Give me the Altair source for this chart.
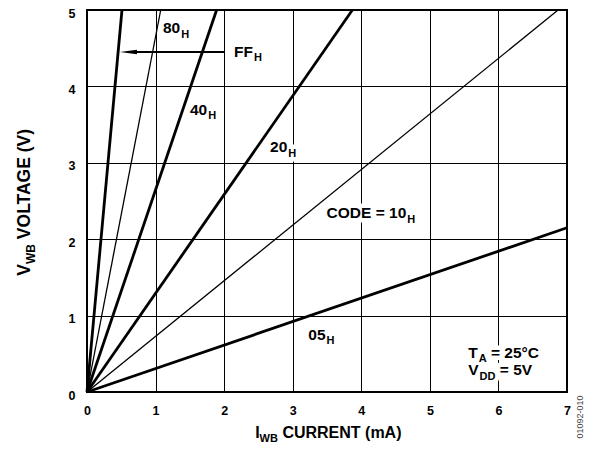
import altair as alt
import pandas as pd

# ---------------- data ----------------
codes = ["05", "10", "20", "40", "80", "FF"]
end_current = [7.0, 6.87, 3.87, 1.89, 1.075, 0.51]   # mA where each line leaves the plot
end_voltage = [2.15, 5.0, 5.0, 5.0, 5.0, 5.0]        # V at that point
heavy_codes = ["05", "20", "40", "FF"]

x_ticks = [0, 1, 2, 3, 4, 5, 6, 7]
y_ticks = [0, 1, 2, 3, 4, 5]

# annotation labels: list of (text, is_subscript) segments
ann_parts = [
    [("80", 0), ("H", 1)],
    [("FF", 0), ("H", 1)],
    [("40", 0), ("H", 1)],
    [("20", 0), ("H", 1)],
    [("CODE = 10", 0), ("H", 1)],
    [("05", 0), ("H", 1)],
    [("T", 0), ("A", 1), (" = 25°C", 0)],
    [("V", 0), ("DD", 1), (" = 5V", 0)],
]
ann_x = [1.108, 2.144, 1.502, 2.669, 3.494, 3.227, 5.56, 5.56]
ann_y = [4.695, 4.389, 3.626, 3.14, 2.274, 0.681, 0.449, 0.2225]

arrow_tail = 2.0
arrow_tip = 0.48
arrow_v = 4.45

x_title = [("I", 0), ("WB", 1), (" CURRENT (mA)", 0)]
y_title = [("V", 0), ("WB", 1), (" VOLTAGE (V)", 0)]
watermark = "01092-010"

# ---------------- layout ----------------
FONT = "Liberation Sans"
W, H = 480, 382
XPX, YPX = W / 7.0, H / 5.0
ANN_SIZE, ANN_SUB = 15.5, 11
XT_SIZE, XT_SUB = 16, 11
YT_SIZE, YT_SUB = 17.5, 12

AW = {" ": .278, "(": .333, ")": .333, "-": .333, "=": .584, "°": .400,
      "A": .722, "B": .722, "C": .722, "D": .722, "E": .667, "F": .611,
      "G": .778, "H": .722, "I": .278, "L": .611, "M": .833, "N": .722,
      "O": .778, "R": .722, "T": .611, "V": .667, "W": .944, "m": .889}


def tw(s, size):
    return sum(AW.get(c, .556) for c in s) * size


def split_lead(t):
    s = t.lstrip(" ")
    return len(t) - len(s), s


# lines table
rows = []
for c, ex, ey in zip(codes, end_current, end_voltage):
    rows.append({"code": c, "I": 0.0, "V": 0.0, "o": 0})
    rows.append({"code": c, "I": ex, "V": ey, "o": 1})
lines = pd.DataFrame(rows)

# annotation table
arows = []
for parts, x0, y0 in zip(ann_parts, ann_x, ann_y):
    cx = x0
    for txt, sub in parts:
        size = ANN_SUB if sub else ANN_SIZE
        n, s = split_lead(txt)
        cx += tw(" " * n, size) / XPX
        if sub:
            cx += 1.0 / XPX
        arows.append({"I": cx, "V": y0 - (4.5 / YPX if sub else 0.0),
                      "t": s, "sub": sub})
        cx += tw(s, size) / XPX
ann = pd.DataFrame(arows)

xs = alt.Scale(domain=[0, 7], nice=False, zero=False)
ys = alt.Scale(domain=[0, 5], nice=False, zero=False)

base = alt.Chart(lines).encode(
    x=alt.X("I:Q", scale=xs,
            axis=alt.Axis(values=x_ticks, title=None, format="d", labelFlush=False)),
    y=alt.Y("V:Q", scale=ys,
            axis=alt.Axis(values=y_ticks, title=None, format="d", labelOffset=3,
                          labelFlush=False)),
    detail="code:N",
    order="o:Q",
)
thin = base.mark_line(color="black", strokeWidth=1.3).transform_filter(
    ~alt.FieldOneOfPredicate(field="code", oneOf=heavy_codes))
thick = base.mark_line(color="black", strokeWidth=2.8).transform_filter(
    alt.FieldOneOfPredicate(field="code", oneOf=heavy_codes))

head_len = 17
head_c = arrow_tip + (head_len / 2) / XPX
arrow_df = pd.DataFrame([{"I": arrow_tail, "I2": head_c, "V": arrow_v, "Ih": head_c}])
arrow_line = alt.Chart(arrow_df).mark_rule(color="black", strokeWidth=2).encode(
    x=alt.X("I:Q", scale=xs), x2="I2:Q", y=alt.Y("V:Q", scale=ys))
arrow_head = alt.Chart(arrow_df).mark_point(
    shape="M-1,0L1,-0.27L1,0.27Z", filled=True, color="black", opacity=1,
    size=head_len ** 2, strokeWidth=0).encode(
    x=alt.X("Ih:Q", scale=xs), y=alt.Y("V:Q", scale=ys))


def ann_layer(sub, halo):
    size = ANN_SUB if sub else ANN_SIZE
    kw = dict(font=FONT, fontWeight="bold", fontSize=size, align="left",
              baseline="alphabetic")
    if halo:
        kw.update(color="white", stroke="white", strokeWidth=9,
                  strokeJoin="round")
    else:
        kw.update(color="black")
    return alt.Chart(ann).transform_filter(alt.datum.sub == sub).mark_text(**kw).encode(
        x=alt.X("I:Q", scale=xs), y=alt.Y("V:Q", scale=ys), text="t:N")


ann_layers = [ann_layer(1, True), ann_layer(0, True), ann_layer(1, False), ann_layer(0, False)]

# axis titles with subscripts (pixel offsets relative to the plot area)
title_layers = []
tot = sum(tw(t, XT_SUB if s else XT_SIZE) for t, s in x_title)
cx = W / 2 - tot / 2
for t, s in x_title:
    size = XT_SUB if s else XT_SIZE
    n, txt = split_lead(t)
    cx += tw(" " * n, size)
    title_layers.append(
        alt.Chart(pd.DataFrame({"t": [txt]})).mark_text(
            font=FONT, fontWeight="bold", fontSize=size, align="left",
            baseline="alphabetic", color="black").encode(
            x=alt.value(cx), y=alt.value(427.5 + (4 if s else 0)), text="t:N"))
    cx += tw(txt, size)

tot = sum(tw(t, YT_SUB if s else YT_SIZE) for t, s in y_title)
cy = H / 2 + tot / 2
for t, s in y_title:
    size = YT_SUB if s else YT_SIZE
    n, txt = split_lead(t)
    cy -= tw(" " * n, size)
    title_layers.append(
        alt.Chart(pd.DataFrame({"t": [txt]})).mark_text(
            font=FONT, fontWeight="bold", fontSize=size, align="left",
            baseline="alphabetic", angle=270, color="black").encode(
            x=alt.value(-57 + (4.5 if s else 0)), y=alt.value(cy), text="t:N"))
    cy -= tw(txt, size)

wm = alt.Chart(pd.DataFrame({"t": [watermark]})).mark_text(
    font=FONT, fontSize=9, angle=270, align="center", baseline="middle",
    color="#444444").encode(x=alt.value(493), y=alt.value(407), text="t:N")

chart = alt.layer(thin, thick, arrow_line, arrow_head, *ann_layers,
                  *title_layers, wm).properties(
    width=W, height=H,
    autosize=alt.AutoSizeParams(type="none"),
    padding={"left": 79, "top": 2, "right": 19, "bottom": 51},
    background="white",
).configure_view(
    stroke="black", strokeWidth=2
).configure_axis(
    grid=True, gridColor="black", gridWidth=1, gridOpacity=1,
    domain=False, ticks=False, labelFont=FONT, labelFontWeight="bold",
    labelFontSize=12.5, labelColor="black", labelPadding=12,
)

chart.save("out.html", embed_options={"renderer": "svg", "actions": False})
